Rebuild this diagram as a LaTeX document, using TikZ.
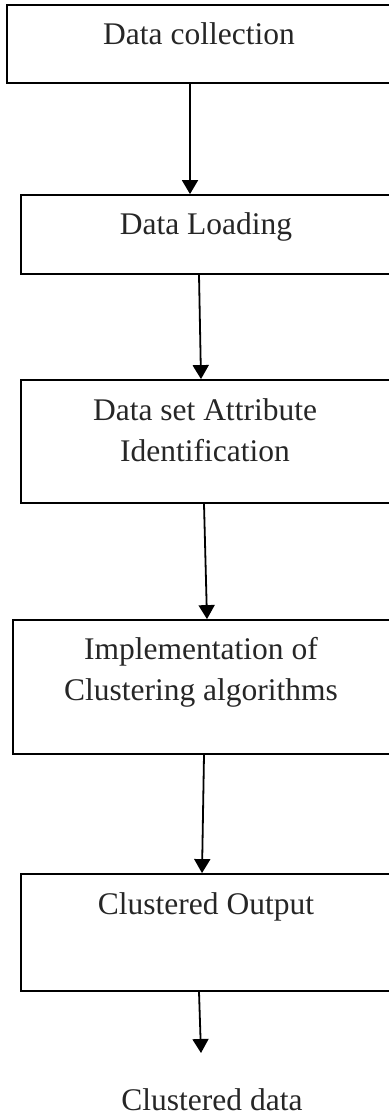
\documentclass[tikz,border=0pt]{standalone}
\usepackage{fontspec}
\setmainfont{Liberation Serif}
\usetikzlibrary{arrows.meta}

\begin{document}
\begin{tikzpicture}[x=1pt,y=-1pt,
  stepbox/.style={draw, line width=1.8pt, rectangle, inner sep=0pt},
  steptext/.style={anchor=base, align=center, inner sep=0pt,
    font=\fontsize{31.5}{41}\selectfont, text=black!85},
  flow/.style={line width=1.8pt, -{Triangle[width=16pt,length=14pt]}}]
\useasboundingbox (0,0) rectangle (388,1115);

% boxes (right edges run off the page)
\node[stepbox, minimum width=388pt, minimum height=78pt] (collect) at (201,44) {};
\node[stepbox, minimum width=374pt, minimum height=79pt] (load) at (208,234.5) {};
\node[stepbox, minimum width=374pt, minimum height=123pt] (attr) at (208,441.5) {};
\node[stepbox, minimum width=382pt, minimum height=134pt] (impl) at (204,687) {};
\node[stepbox, minimum width=374pt, minimum height=117pt] (output) at (208,932.5) {};

% labels, base = last line
\node[steptext] (collecttxt) at (199,45) {Data collection};
\node[steptext] (loadtxt) at (206,235) {Data Loading};
\node[steptext] (attrtxt) at (205,461) {Data set Attribute\\Identification};
\node[steptext] (impltxt) at (201,700) {Implementation of\\Clustering algorithms};
\node[steptext] (outputtxt) at (206,914) {Clustered Output};
\node[steptext] (result) at (212,1110) {Clustered data};

\coordinate (dataend) at (201,1053);

\draw[flow] ([xshift=-11pt]collect.south) -- ([xshift=-18pt]load.north);
\draw[flow] ([xshift=-9pt]load.south) -- ([xshift=-7pt]attr.north);
\draw[flow] ([xshift=-4pt]attr.south) -- ([xshift=3pt]impl.north);
\draw[flow] (impl.south) -- ([xshift=-6pt]output.north);
\draw[flow] ([xshift=-9pt]output.south) -- (dataend);
\end{tikzpicture}
\end{document}
